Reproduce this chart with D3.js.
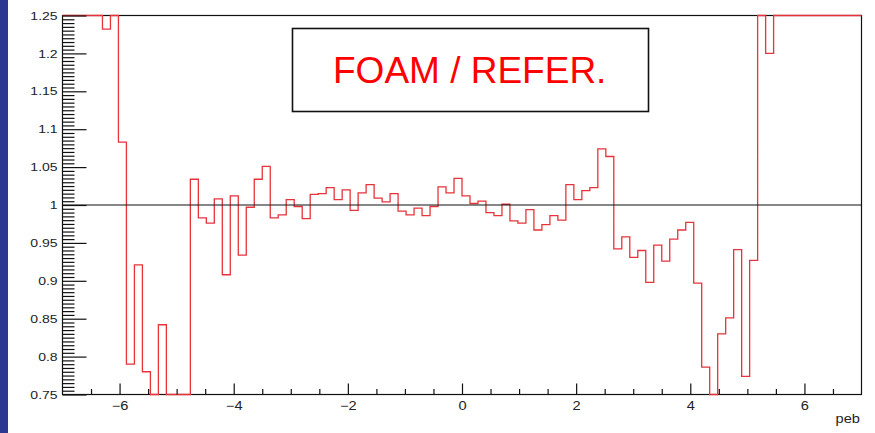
<!DOCTYPE html>
<html>
<head>
<meta charset="utf-8">
<script src="https://cdn.jsdelivr.net/npm/d3@7"></script>
<style>
  html, body { margin: 0; padding: 0; background: #fff; }
  svg { display: block; }
  text { font-family: "Liberation Sans", Arial, Helvetica, sans-serif; }
</style>
</head>
<body>
<svg id="chart" width="875" height="433"></svg>
<script>
// ---- data ----
const xRange = [-7, 7];
const nBins = 100;
const yRange = [0.75, 1.25];
// ratio FOAM / REFER per bin (bins of width 0.14 from -7 to 7); off-scale bins are estimates
const ratio = [
  1.31, 1.36, 1.29, 1.33, 1.27, 1.232, 1.30, 1.083, 0.790, 0.921,
  0.780, 0.72, 0.842, 0.70, 0.73, 0.71, 1.034, 0.983, 0.976, 1.008,
  0.908, 1.012, 0.934, 0.997, 1.034, 1.051, 0.983, 0.987, 1.007, 0.998,
  0.982, 1.014, 1.015, 1.023, 1.007, 1.020, 0.993, 1.016, 1.027, 1.009,
  1.004, 1.015, 0.992, 0.987, 0.996, 0.986, 0.998, 1.024, 1.016, 1.035,
  1.012, 1.002, 1.005, 0.990, 0.986, 1.001, 0.979, 0.976, 0.994, 0.967,
  0.974, 0.986, 0.980, 1.027, 1.007, 1.019, 1.023, 1.074, 1.064, 0.942,
  0.958, 0.931, 0.940, 0.898, 0.947, 0.926, 0.955, 0.967, 0.977, 0.897,
  0.786, 0.73, 0.830, 0.851, 0.941, 0.774, 0.927, 1.30, 1.200, 1.34,
  1.29, 1.38, 1.31, 1.27, 1.35, 1.30, 1.42, 1.28, 1.33, 1.36
];
const xMajorTicks = [-6, -4, -2, 0, 2, 4, 6];
const xMinorTicks = [-6.5, -5.5, -5, -4.5, -3.5, -3, -2.5, -1.5, -1, -0.5, 0.5, 1, 1.5, 2.5, 3, 3.5, 4.5, 5, 5.5, 6.5];
const yMajorTicks = [0.75, 0.8, 0.85, 0.9, 0.95, 1, 1.05, 1.1, 1.15, 1.2, 1.25];
const yMinorStep = 0.005;
const xTitle = "peb";
const boxLabel = "FOAM / REFER.";
const refLine = 1;

// ---- layout ----
const W = 875, H = 433;
const L = 62, R = 861, T = 15, B = 394;
const svg = d3.select("#chart");

svg.append("rect").attr("x", 0).attr("y", 0).attr("width", W).attr("height", H).attr("fill", "#fff");
svg.append("rect").attr("x", 0).attr("y", 0).attr("width", 8).attr("height", H).attr("fill", "#2b3990");

const x = d3.scaleLinear().domain(xRange).range([L + 0.5, R + 0.5]);
const y = d3.scaleLinear().domain(yRange).range([B + 0.5, T + 0.5]);

const binW = (xRange[1] - xRange[0]) / nBins;
const clampV = v => Math.max(yRange[0], Math.min(yRange[1], v));

// histogram step line
const pts = ratio.map((v, i) => [xRange[0] + i * binW, clampV(v)]);
pts.push([xRange[1], clampV(ratio[ratio.length - 1])]);
const stepLine = d3.line().x(d => x(d[0])).y(d => y(d[1])).curve(d3.curveStepAfter);

// frame
svg.append("rect")
  .attr("x", L + 0.5).attr("y", T + 0.5)
  .attr("width", R - L).attr("height", B - T)
  .attr("fill", "none").attr("stroke", "#111").attr("stroke-width", 1.2);

svg.append("path")
  .datum(pts)
  .attr("d", stepLine)
  .attr("fill", "none")
  .attr("stroke", "#e8333a")
  .attr("stroke-width", 1.3);

// reference line at 1
svg.append("line")
  .attr("x1", x(xRange[0])).attr("x2", x(xRange[1]))
  .attr("y1", y(refLine)).attr("y2", y(refLine))
  .attr("stroke", "#111").attr("stroke-width", 1.2);

// y axis (ticks pointing inward)
const yMinor = d3.range(0, Math.round((yRange[1] - yRange[0]) / yMinorStep) + 1)
  .map(i => yRange[0] + i * yMinorStep)
  .filter(v => !yMajorTicks.some(m => Math.abs(m - v) < 1e-9));

const yAxisMinor = svg.append("g").attr("transform", `translate(${L + 0.5},0)`)
  .call(d3.axisLeft(y).tickValues(yMinor).tickSize(-12).tickSizeOuter(0).tickFormat(""));
const yAxis = svg.append("g").attr("transform", `translate(${L + 0.5},0)`)
  .call(d3.axisLeft(y).tickValues(yMajorTicks).tickSize(-24).tickSizeOuter(0).tickPadding(4)
    .tickFormat(d => String(+d.toFixed(2))));

// x axis
const xAxisMinor = svg.append("g").attr("transform", `translate(0,${B + 0.5})`)
  .call(d3.axisBottom(x).tickValues(xMinorTicks).tickSize(-5.5).tickSizeOuter(0).tickFormat(""));
const xAxis = svg.append("g").attr("transform", `translate(0,${B + 0.5})`)
  .call(d3.axisBottom(x).tickValues(xMajorTicks).tickSize(-11).tickSizeOuter(0).tickPadding(7)
    .tickFormat(d => d < 0 ? "\u2212" + Math.abs(d) : String(d)));

[yAxisMinor, yAxis, xAxisMinor, xAxis].forEach(g => {
  g.select(".domain").remove();
  g.selectAll(".tick line").attr("stroke", "#111").attr("stroke-width", 1.2);
});
yAxis.selectAll(".tick text")
  .attr("font-size", 11.5).attr("fill", "#222")
  .attr("font-family", "Liberation Sans, Arial, sans-serif")
  .attr("transform", "scale(1.22,1)");
xAxis.selectAll(".tick text")
  .attr("font-size", 12).attr("fill", "#222")
  .attr("font-family", "Liberation Sans, Arial, sans-serif")
  .attr("transform", "scale(1.22,1)");

// x axis title
svg.append("text")
  .attr("transform", `translate(${R - 1},${423}) scale(1.22,1)`)
  .attr("text-anchor", "end")
  .attr("font-size", 12).attr("fill", "#222")
  .text(xTitle);

// label box
const box = { x0: -2.98, x1: 3.25, y0: 1.233, y1: 1.124 };
svg.append("rect")
  .attr("x", Math.round(x(box.x0)) + 0.5).attr("y", Math.round(y(box.y0)) + 0.5)
  .attr("width", Math.round(x(box.x1) - x(box.x0))).attr("height", Math.round(y(box.y1) - y(box.y0)))
  .attr("fill", "#fff").attr("stroke", "#111").attr("stroke-width", 1.6);
svg.append("text")
  .attr("x", (x(box.x0) + x(box.x1)) / 2)
  .attr("y", y(box.y1) - 28)
  .attr("text-anchor", "middle")
  .attr("font-size", 37).attr("fill", "#ff0000")
  .text(boxLabel);
</script>
</body>
</html>
